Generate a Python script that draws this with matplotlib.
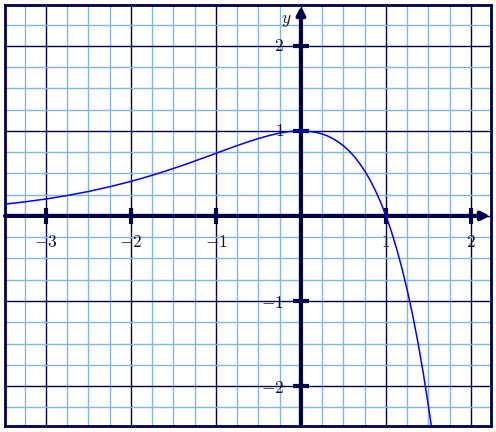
import numpy as np
import matplotlib.pyplot as plt
from matplotlib.ticker import MultipleLocator

plt.rcParams["mathtext.fontset"] = "cm"

# points
curve_x = [-3.5, -3.25, -3.0, -2.75, -2.5, -2.25, -2.0, -1.875, -1.75, -1.625,
           -1.5, -1.375, -1.25, -1.125, -1.0, -0.875, -0.75, -0.625, -0.5, -0.375,
           -0.25, -0.125, 0.0, 0.0625, 0.125, 0.1875, 0.25, 0.3125, 0.375, 0.4375,
           0.5, 0.5625, 0.625, 0.6875, 0.75, 0.8125, 0.875, 0.9375, 1.0, 1.0625,
           1.125, 1.1875, 1.25, 1.3125, 1.375, 1.4375, 1.5, 1.525, 1.55]
curve_y = [0.136, 0.165, 0.199, 0.240, 0.287, 0.343, 0.406, 0.441, 0.478, 0.517,
           0.558, 0.600, 0.645, 0.690, 0.736, 0.782, 0.827, 0.870, 0.910, 0.945,
           0.974, 0.993, 1.0, 0.998, 0.991, 0.980, 0.963, 0.940, 0.909, 0.871,
           0.824, 0.768, 0.701, 0.621, 0.529, 0.423, 0.300, 0.160, 0.0, -0.181,
           -0.385, -0.615, -0.873, -1.161, -1.483, -1.842, -2.241, -2.412, -2.591]

x_ticks = [-3, -2, -1, 1, 2]
y_ticks = [-2, -1, 1, 2]
x_labels = ["$-3$", "$-2$", "$-1$", "$1$", "$2$"]
y_labels = ["$-2$", "$-1$", "$1$", "$2$"]

navy = "#00004d"
light = "#85b5e3"
txt = "#10102a"

fig = plt.figure(figsize=(4.96, 4.32), dpi=100)
ax = fig.add_axes([5 / 496, 6 / 432, 486 / 496, 421 / 432])
ax.set_xlim(-3.48, 2.235)
ax.set_ylim(-2.47, 2.48)

ax.xaxis.set_major_locator(MultipleLocator(1))
ax.yaxis.set_major_locator(MultipleLocator(1))
ax.xaxis.set_minor_locator(MultipleLocator(0.25))
ax.yaxis.set_minor_locator(MultipleLocator(0.25))
ax.grid(which="minor", color=light, lw=1.0, zorder=0)
ax.grid(which="major", color=navy, lw=1.0, zorder=1)
ax.tick_params(which="both", length=0, labelbottom=False, labelleft=False)
for s in ax.spines.values():
    s.set_color(navy)
    s.set_linewidth(2)

# axes with arrows
ax.annotate("", xy=(2.225, 0), xytext=(-3.48, 0),
            arrowprops=dict(arrowstyle="-|>", color=navy, lw=3, mutation_scale=12,
                            shrinkA=0, shrinkB=0), zorder=3)
ax.annotate("", xy=(0, 2.47), xytext=(0, -2.47),
            arrowprops=dict(arrowstyle="-|>", color=navy, lw=3, mutation_scale=12,
                            shrinkA=0, shrinkB=0), zorder=3)

# tick marks on the axes
ax.plot(x_ticks, [0] * len(x_ticks), ls="none", marker="|", ms=12, mew=3,
        color=navy, zorder=4)
ax.plot([0] * len(y_ticks), y_ticks, ls="none", marker="_", ms=12, mew=3,
        color=navy, zorder=4)

for xt, lab in zip(x_ticks, x_labels):
    ax.text(xt, -0.31, lab, ha="center", va="center", fontsize=12.5, color=txt, zorder=5)
for yt, lab in zip(y_ticks, y_labels):
    dy = -0.025 if yt < 0 else 0.0
    ax.text(-0.2, yt + dy, lab, ha="right", va="center", fontsize=12.5, color=txt, zorder=5)
ax.text(-0.17, 2.3, "$y$", ha="center", va="center", fontsize=12.5, color=txt, zorder=5)
ax.text(2.28, -0.22, "$x$", ha="center", va="center", fontsize=12.5, color=txt,
        zorder=5, clip_on=True)

ax.plot(curve_x, curve_y, color="blue", lw=1.1, zorder=6)

fig.savefig("out.png", dpi=100)
